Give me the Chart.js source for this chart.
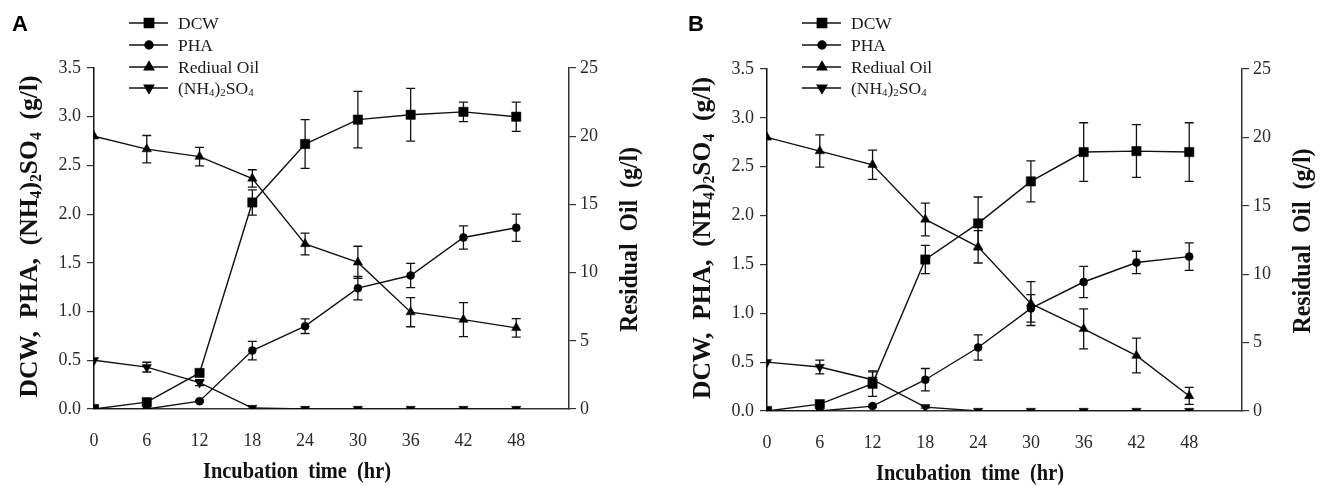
<!DOCTYPE html>
<html><head><meta charset="utf-8">
<script src="https://cdn.jsdelivr.net/npm/chart.js@4.4.1/dist/chart.umd.min.js"></script>
<style>
html,body{margin:0;padding:0;background:#fff;width:1333px;height:486px;overflow:hidden;position:relative}
canvas{position:absolute;top:0}
</style></head>
<body>
<canvas id="cA" width="666" height="486" style="left:0px"></canvas>
<canvas id="cB" width="660" height="486" style="left:673px"></canvas>
<script>
// ---------- data ----------
const hours = [0, 6, 12, 18, 24, 30, 36, 42, 48];
const xTicks = [0, 6, 12, 18, 24, 30, 36, 42, 48];
const leftTicks = [0, 0.5, 1.0, 1.5, 2.0, 2.5, 3.0, 3.5];
const rightTicks = [0, 5, 10, 15, 20, 25];
const seriesNames = ['DCW', 'PHA', 'Rediual Oil', '(NH\u2084)\u2082SO\u2084'];

// Panel A
const dcwA    = [0, 0.07, 0.37, 2.12, 2.72, 2.97, 3.02, 3.05, 3.00];
const dcwErrA = [0, 0.01, 0.02, 0.13, 0.25, 0.29, 0.27, 0.10, 0.15];
const phaA    = [0, 0.00, 0.08, 0.60, 0.85, 1.24, 1.37, 1.76, 1.86];
const phaErrA = [0, 0, 0.01, 0.095, 0.075, 0.12, 0.125, 0.12, 0.14];
const oilA    = [20.0, 19.05, 18.5, 16.9, 12.1, 10.75, 7.1, 6.55, 5.95];
const oilErrA = [0, 1.0, 0.68, 0.64, 0.8, 1.18, 1.07, 1.25, 0.68];
const nh4A    = [0.50, 0.43, 0.27, 0.01, 0, 0, 0, 0, 0];
const nh4ErrA = [0, 0.05, 0.03, 0, 0, 0, 0, 0, 0];

// Panel B
const dcwB    = [0, 0.07, 0.28, 1.55, 1.92, 2.35, 2.65, 2.66, 2.65];
const dcwErrB = [0, 0.01, 0.13, 0.145, 0.27, 0.21, 0.30, 0.27, 0.30];
const phaB    = [0, 0.00, 0.05, 0.32, 0.65, 1.05, 1.32, 1.52, 1.58];
const phaErrB = [0, 0, 0.01, 0.115, 0.13, 0.14, 0.16, 0.115, 0.14];
const oilB    = [20.0, 19.0, 18.0, 14.0, 12.0, 7.85, 6.0, 4.05, 1.1];
const oilErrB = [0, 1.18, 1.07, 1.2, 1.18, 1.6, 1.46, 1.27, 0.62];
const nh4B    = [0.50, 0.45, 0.32, 0.04, 0, 0, 0, 0, 0];
const nh4ErrB = [0, 0.07, 0.08, 0.01, 0, 0, 0, 0, 0];

// ---------- styling ----------
const SERIF = '"Liberation Serif", "Times New Roman", serif';
const INK = '#111';
const AXIS = '#333';
const markers = [
  {pointStyle: 'rect', radius: 6.6, rotation: 0},
  {pointStyle: 'circle', radius: 4.0, rotation: 0},
  {pointStyle: 'triangle', radius: 5.4, rotation: 0},
  {pointStyle: 'triangle', radius: 5.4, rotation: 180}
];
const leftTitle = [
  {t: 'DCW,  PHA,  (NH'}, {t: '4', sub: true}, {t: ')'}, {t: '2', sub: true},
  {t: 'SO'}, {t: '4', sub: true}, {t: '  (g/l)'}
];
const rightTitle = [{t: 'Residual  Oil  (g/l)'}];
const xTitle = [{t: 'Incubation  time  (hr)'}];

function fontStr(size, bold) { return (bold ? 'bold ' : '') + size + 'px ' + SERIF; }
function richWidth(ctx, segs, size, bold) {
  let w = 0;
  for (const s of segs) { ctx.font = fontStr(s.sub ? size * 0.62 : size, bold); w += ctx.measureText(s.t).width; }
  return w;
}
function drawRich(ctx, segs, x, y, size, bold, opts) {
  ctx.save();
  ctx.translate(x, y);
  if (opts.rotate) ctx.rotate(-Math.PI / 2);
  const w = richWidth(ctx, segs, size, bold);
  const sc = opts.target ? opts.target / w : 1;
  ctx.scale(sc, 1);
  let cx = opts.align === 'left' ? 0 : -w / 2;
  ctx.textBaseline = 'alphabetic';
  ctx.textAlign = 'left';
  ctx.fillStyle = opts.color || INK;
  for (const s of segs) {
    const fs = s.sub ? size * 0.62 : size;
    ctx.font = fontStr(fs, bold);
    ctx.fillText(s.t, cx, s.sub ? size * 0.14 : 0);
    cx += ctx.measureText(s.t).width;
  }
  ctx.restore();
}

function makePanel(canvasId, letter, geo, series) {
  const canvas = document.getElementById(canvasId);
  const W = canvas.width, H = canvas.height;
  const datasets = series.map((s, k) => ({
    label: seriesNames[k],
    data: hours.map((h, i) => ({x: h, y: s.values[i]})),
    errors: s.errors,
    yAxisID: k === 2 ? 'y2' : 'y',
    borderColor: INK,
    borderWidth: 1.4,
    backgroundColor: '#000',
    pointStyle: markers[k].pointStyle,
    pointRadius: markers[k].radius,
    pointRotation: markers[k].rotation,
    pointBackgroundColor: '#000',
    pointBorderColor: '#000',
    pointBorderWidth: 0.5,
    pointHoverRadius: markers[k].radius,
    fill: false,
    tension: 0
  }));

  const errorBars = {
    id: 'errorBars',
    beforeDatasetsDraw(chart) {
      const ctx = chart.ctx;
      ctx.save();
      ctx.strokeStyle = INK;
      ctx.lineWidth = 1.3;
      chart.data.datasets.forEach((ds) => {
        const ys = chart.scales[ds.yAxisID], xs = chart.scales.x;
        ds.data.forEach((p, i) => {
          const e = ds.errors[i];
          if (!e) return;
          const px = xs.getPixelForValue(p.x);
          const t = ys.getPixelForValue(p.y + e), b = ys.getPixelForValue(p.y - e);
          ctx.beginPath();
          ctx.moveTo(px, t); ctx.lineTo(px, b);
          ctx.moveTo(px - 4.5, t); ctx.lineTo(px + 4.5, t);
          ctx.moveTo(px - 4.5, b); ctx.lineTo(px + 4.5, b);
          ctx.stroke();
        });
      });
      ctx.restore();
    }
  };

  const decor = {
    id: 'decor',
    afterDraw(chart) {
      const ctx = chart.ctx;
      const a = chart.chartArea;
      ctx.save();
      ctx.fillStyle = '#000';
      ctx.font = 'bold 22px "Liberation Sans", Arial, sans-serif';
      ctx.textBaseline = 'alphabetic';
      ctx.fillText(letter, geo.letterX, 31);
      ctx.restore();
      drawRich(ctx, leftTitle, a.left - 57, (a.top + a.bottom) / 2 - 2, 26, true, {rotate: true, target: 322});
      drawRich(ctx, rightTitle, a.right + 68, (a.top + a.bottom) / 2 + 1, 26, true, {rotate: true, target: 185});
      drawRich(ctx, xTitle, a.left + 203, a.bottom + 69, 24, true, {target: 188});
      const rows = [23, 45, 67, 88];
      chart.data.datasets.forEach((ds, k) => {
        const y = rows[k];
        ctx.save();
        ctx.strokeStyle = INK; ctx.lineWidth = 1.4;
        ctx.beginPath(); ctx.moveTo(a.left + 35, y); ctx.lineTo(a.left + 74, y); ctx.stroke();
        ctx.fillStyle = '#000'; ctx.strokeStyle = '#000';
        Chart.helpers.drawPoint(ctx, {pointStyle: markers[k].pointStyle, rotation: markers[k].rotation,
          radius: markers[k].radius, borderWidth: 0.5}, a.left + 55, y);
        ctx.restore();
        let segs;
        if (k === 3) segs = [{t: '(NH'}, {t: '4', sub: true}, {t: ')'}, {t: '2', sub: true}, {t: 'SO'}, {t: '4', sub: true}];
        else segs = [{t: ds.label}];
        drawRich(ctx, segs, a.left + 84, y + 6, 17.5, false, {align: 'left', color: '#1a1a1a'});
      });
    }
  };

  const tickFont = {family: SERIF, size: 18};
  return new Chart(canvas, {
    type: 'line',
    data: {datasets},
    options: {
      responsive: false,
      animation: false,
      events: [],
      layout: {padding: {top: geo.top, left: 0, right: 0, bottom: 0}},
      plugins: {legend: {display: false}, tooltip: {enabled: false}, title: {display: false}},
      scales: {
        x: {
          type: 'linear', position: 'bottom', min: 0, max: 54,
          afterBuildTicks: (s) => { s.ticks = xTicks.map(v => ({value: v})); },
          afterFit: (s) => { s.height = H - geo.bottom; },
          ticks: {font: tickFont, color: '#2a2a2a', padding: 13, autoSkip: false, maxRotation: 0,
                  callback: (v) => String(v)},
          grid: {display: false},
          border: {display: true, color: AXIS, width: 1.5}
        },
        y: {
          type: 'linear', position: 'left', min: 0, max: 3.5,
          afterBuildTicks: (s) => { s.ticks = leftTicks.map(v => ({value: v})); },
          afterFit: (s) => { s.width = geo.left; },
          ticks: {font: tickFont, color: '#2a2a2a', padding: 6, callback: (v) => Number(v).toFixed(1)},
          grid: {display: true, drawOnChartArea: false, drawTicks: true, tickLength: 7, color: AXIS, lineWidth: 1.2},
          border: {display: true, color: '#111', width: 1.5}
        },
        y2: {
          type: 'linear', position: 'right', min: 0, max: 25,
          afterBuildTicks: (s) => { s.ticks = rightTicks.map(v => ({value: v})); },
          afterFit: (s) => { s.width = W - geo.right; },
          ticks: {font: tickFont, color: '#2a2a2a', padding: 4, callback: (v) => String(v)},
          grid: {display: true, drawOnChartArea: false, drawTicks: true, tickLength: 7, color: AXIS, lineWidth: 1.2},
          border: {display: true, color: AXIS, width: 1.5}
        }
      }
    },
    plugins: [errorBars, decor]
  });
}

makePanel('cA', 'A', {left: 94, right: 569, top: 68, bottom: 409, letterX: 12}, [
  {values: dcwA, errors: dcwErrA},
  {values: phaA, errors: phaErrA},
  {values: oilA, errors: oilErrA},
  {values: nh4A, errors: nh4ErrA}
]);
makePanel('cB', 'B', {left: 94, right: 569, top: 69, bottom: 411, letterX: 15}, [
  {values: dcwB, errors: dcwErrB},
  {values: phaB, errors: phaErrB},
  {values: oilB, errors: oilErrB},
  {values: nh4B, errors: nh4ErrB}
]);
</script>
</body></html>
